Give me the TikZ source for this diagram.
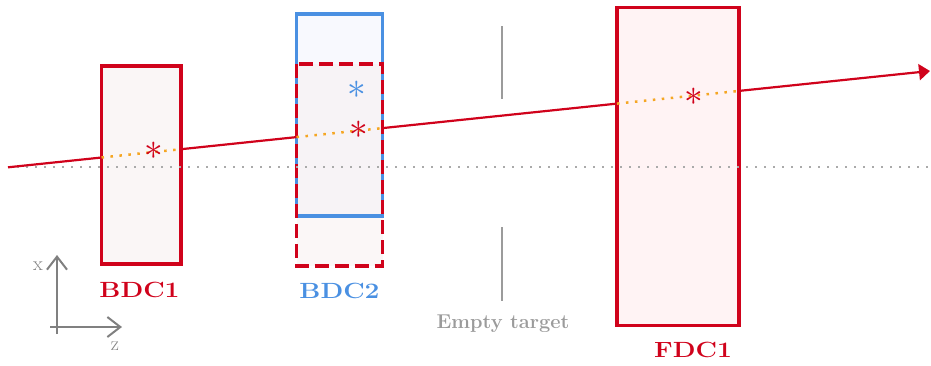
\documentclass[tikz,border=0pt]{standalone}
\usepackage{fontspec}
\usepackage{graphicx}
\usetikzlibrary{arrows.meta}

\definecolor{trackred}{HTML}{D0021B}
\definecolor{chamblue}{HTML}{4A90E2}
\definecolor{hitorange}{HTML}{F5A623}
\definecolor{axisgray}{HTML}{808080}
\definecolor{refgray}{HTML}{AAAAAA}
\definecolor{targetgray}{HTML}{9B9B9B}
\definecolor{fillbdc}{HTML}{FAF6F6}
\definecolor{fillblue}{HTML}{F8F9FE}
\definecolor{fillpink}{HTML}{F6EDEE}
\definecolor{fillfdc}{HTML}{FFF3F4}

\newcommand{\hitmark}{\scalebox{1.5}{$\ast$}}

\begin{document}
\begin{tikzpicture}[x=1pt,y=-1pt,
  chamber/.style={rectangle, line width=3.3pt, inner sep=0pt, outer sep=0pt},
  chamberlabel/.style={anchor=base, inner sep=0pt, font=\fontsize{22}{24}\selectfont\bfseries},
  hit/.style={inner sep=0pt, font=\fontsize{24.88}{26}\selectfont},
  track/.style={draw=trackred, line width=2.2pt},
  inside/.style={draw=hitorange, line width=2.5pt, dash pattern=on 2.5pt off 6.5pt},
  refline/.style={draw=refgray, line width=2pt, dash pattern=on 2pt off 7pt},
  axisline/.style={draw=axisgray, line width=2pt, -{Straight Barb[length=13pt,width=20pt,line width=2pt]}},
  targetline/.style={draw=targetgray, line width=2pt},
  axislabel/.style={inner sep=0pt, text=axisgray, font=\fontsize{20}{22}\selectfont}]

\useasboundingbox (0,0) rectangle (931,365);

% chambers
\node[chamber, draw=trackred, fill=fillbdc, minimum width=79.5pt, minimum height=198pt] (bdc1) at (141.25,165) {};
\node[chamber, fill=fillblue, minimum width=86pt, minimum height=202pt] (bdc2b) at (339.5,115) {};
\node[chamber, fill=fillpink, fill opacity=0.45, minimum width=86pt, minimum height=202pt] (bdc2r) at (339.5,165) {};
\draw[chamblue, line width=3.3pt] (bdc2b.south west) rectangle (bdc2b.north east);
\draw[trackred, line width=3.3pt, dash pattern=on 14pt off 6pt] (bdc2r.north west) rectangle (bdc2r.south east);
\node[chamber, draw=trackred, fill=fillfdc, minimum width=122pt, minimum height=318pt] (fdc1) at (678,166.5) {};

% beam axis reference
\coordinate (refL) at (8,167);
\coordinate (refR) at (931,167);
\draw[refline] (refL) -- (refR);

% empty target marks
\coordinate (tgtA) at (502,26);
\coordinate (tgtB) at (502,99);
\coordinate (tgtC) at (502,227);
\coordinate (tgtD) at (502,301);
\draw[targetline] (tgtA) -- (tgtB);
\draw[targetline] (tgtC) -- (tgtD);

% track crossing points
\coordinate (trS) at (8,167.3);
\coordinate (b1in) at (101.5,157.5);
\coordinate (b1out) at (181,149.2);
\coordinate (b2in) at (296.5,137.1);
\coordinate (b2out) at (382.5,128.1);
\coordinate (f1in) at (617,103.6);
\coordinate (f1out) at (739,90.9);
\coordinate (trE) at (930,71);

\draw[track] (trS) -- (b1in);
\draw[inside] (b1in) -- (b1out);
\draw[track] (b1out) -- (b2in);
\draw[inside] (b2in) -- (b2out);
\draw[track] (b2out) -- (f1in);
\draw[inside] (f1in) -- (f1out);
\draw[track, -{Triangle[length=11pt,width=16pt]}] (f1out) -- (trE);

% hits
\node[hit, text=trackred] (h1) at (154,151) {\hitmark};
\node[hit, text=chamblue] (h2b) at (357,90) {\hitmark};
\node[hit, text=trackred] (h2r) at (359,130) {\hitmark};
\node[hit, text=trackred] (h3) at (694,97) {\hitmark};

% labels
\node[chamberlabel, text=trackred] (lbdc1) at (139.5,297) {\scalebox{1.2}[1]{BDC1}};
\node[chamberlabel, text=chamblue] (lbdc2) at (339.5,298.5) {\scalebox{1.2}[1]{BDC2}};
\node[chamberlabel, text=trackred] (lfdc1) at (693,357) {\scalebox{1.2}[1]{FDC1}};
\node[anchor=base, inner sep=0pt, text=targetgray, font=\fontsize{20}{22}\selectfont\bfseries] (ltgt) at (503,328) {Empty target};

% axes
\coordinate (xB) at (57,334);
\coordinate (xT) at (57,255);
\coordinate (zL) at (50,327);
\coordinate (zR) at (122,327);
\draw[axisline] (xB) -- (xT);
\draw[axisline] (zL) -- (zR);
\node[axislabel] (lx) at (38,266) {x};
\node[axislabel] (lz) at (115,346) {z};

\end{tikzpicture}
\end{document}
